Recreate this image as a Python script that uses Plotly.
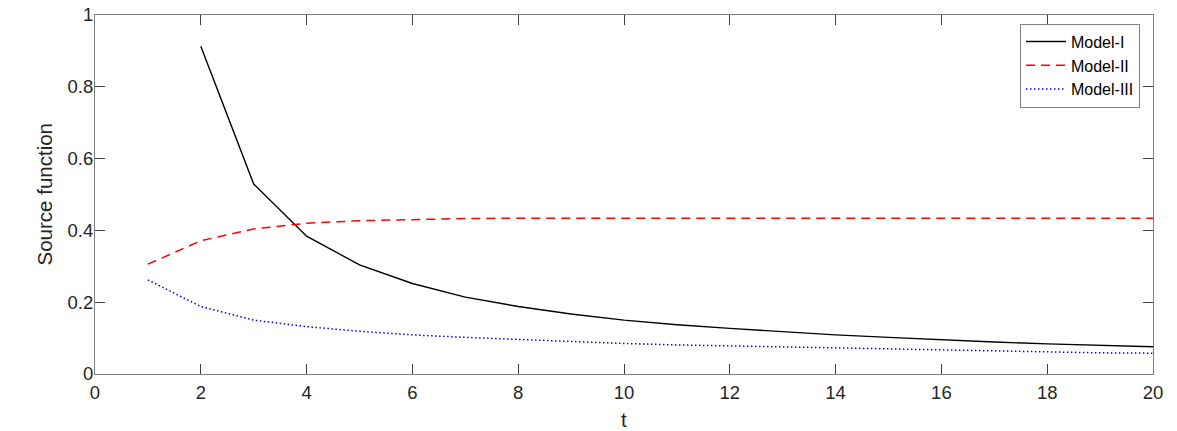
import plotly.graph_objects as go

t_model1 = list(range(2, 21))
model1 = [0.913, 0.529, 0.384, 0.304, 0.252, 0.214, 0.188, 0.167, 0.150, 0.137,
          0.127, 0.117, 0.109, 0.102, 0.095, 0.089, 0.084, 0.080, 0.076]

t_all = list(range(1, 21))
model2 = [0.306, 0.371, 0.404, 0.420, 0.427, 0.431, 0.433, 0.434, 0.434, 0.434,
          0.434, 0.434, 0.434, 0.434, 0.434, 0.434, 0.434, 0.434, 0.434, 0.434]
model3 = [0.262, 0.188, 0.150, 0.132, 0.119, 0.109, 0.102, 0.096, 0.090, 0.085,
          0.081, 0.078, 0.075, 0.072, 0.069, 0.066, 0.064, 0.061, 0.059, 0.058]

x_ticks = list(range(0, 21, 2))
y_ticks = [0, 0.2, 0.4, 0.6, 0.8, 1]
y_tick_labels = ["0", "0.2", "0.4", "0.6", "0.8", "1"]

font_family = "Liberation Sans, Arial, Helvetica, sans-serif"
text_color = "#262626"

fig = go.Figure()
fig.add_trace(go.Scatter(x=t_model1, y=model1, mode="lines", name="Model-I",
                         line=dict(color="#000000", width=1.4)))
fig.add_trace(go.Scatter(x=t_all, y=model2, mode="lines", name="Model-II",
                         line=dict(color="#ff0000", width=1.5, dash="9px,6px")))
fig.add_trace(go.Scatter(x=t_all, y=model3, mode="lines", name="Model-III",
                         line=dict(color="#0000ff", width=1.5, dash="1.5px,2.5px")))

axis_common = dict(
    showgrid=False, zeroline=False, showline=True, linecolor="#808080", linewidth=1,
    mirror="ticks", ticks="inside", ticklen=10, tickcolor="#404040", tickwidth=1,
    tickfont=dict(family=font_family, size=18.5, color=text_color),
    automargin=False,
)

fig.update_xaxes(range=[0, 20], tickmode="array", tickvals=x_ticks,
                 ticktext=[str(v) for v in x_ticks], ticklabelstandoff=2,
                 **axis_common)
fig.update_yaxes(range=[0, 1], tickmode="array", tickvals=y_ticks, ticktext=y_tick_labels,
                 ticklabelstandoff=-3,
                 **axis_common)

fig.add_annotation(text="t", xref="paper", yref="paper", x=0.5, y=-0.1281,
                   xanchor="center", yanchor="middle", showarrow=False,
                   font=dict(family=font_family, size=20.5, color=text_color))
fig.add_annotation(text="Source function", xref="paper", yref="paper", x=-0.0473, y=0.5,
                   xanchor="center", yanchor="middle", textangle=-90, showarrow=False,
                   font=dict(family=font_family, size=20.5, color=text_color))

fig.update_layout(
    width=1177, height=431,
    margin=dict(l=95, r=24, t=15, b=57),
    paper_bgcolor="white", plot_bgcolor="white",
    showlegend=True,
    legend=dict(x=0.9877, y=0.976, xanchor="right", yanchor="top",
                bgcolor="white", bordercolor="#808080", borderwidth=1,
                font=dict(family=font_family, size=16, color="#000000"),
                itemwidth=40, tracegroupgap=0),
)

fig.write_html("out.html")
